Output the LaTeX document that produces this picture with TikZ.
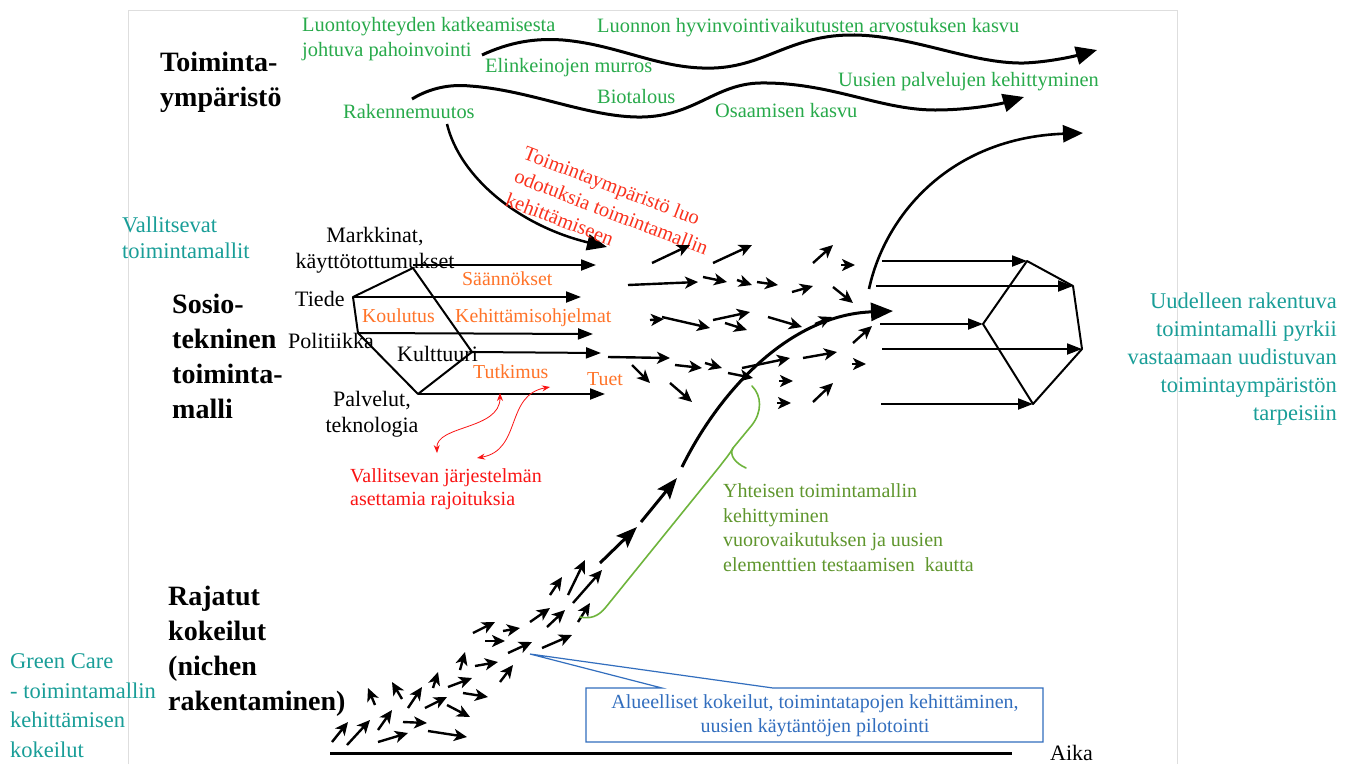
\documentclass[tikz,border=0pt]{standalone}
\usepackage{fontspec}
\setmainfont{Liberation Serif}
\usetikzlibrary{arrows.meta}
\definecolor{cgreen}{RGB}{40,170,75}
\definecolor{cteal}{RGB}{25,158,152}
\definecolor{cred}{RGB}{250,20,20}
\definecolor{credo}{RGB}{250,50,30}
\definecolor{corange}{RGB}{255,115,40}
\definecolor{colive}{RGB}{95,150,45}
\definecolor{cbrace}{RGB}{110,180,60}
\definecolor{cblue}{RGB}{50,110,190}
\definecolor{cframe}{RGB}{222,222,222}
\begin{document}
\begin{tikzpicture}[x=1pt,y=-1pt,
 lbl/.style={inner sep=0pt,anchor=base west,align=left},
 grn/.style={lbl,text=cgreen,font=\fontsize{20.4}{25}\selectfont},
 heading/.style={lbl,font=\fontsize{28}{35}\selectfont\bfseries},
 tealtx/.style={inner sep=0pt,text=cteal,font=\fontsize{22.5}{28}\selectfont},
 blk/.style={lbl,font=\fontsize{22}{26}\selectfont},
 orn/.style={lbl,text=corange,font=\fontsize{19.8}{23}\selectfont},
 redtx/.style={lbl,text=cred,font=\fontsize{20}{23}\selectfont},
 wavearr/.style={line width=3pt,-{Triangle[length=21pt,width=18pt]}},
 midarr/.style={line width=2pt,-{Triangle[length=15pt,width=11pt]}},
 smallarr/.style={line width=2.4pt,-{Stealth[length=13pt,width=12pt,inset=3.5pt]}},
 bigarr/.style={line width=3pt,-{Stealth[length=21pt,width=16pt,inset=4pt]}},
 polyline/.style={line width=2pt,line join=round},
 redarr/.style={cred,line width=0.8pt,{Stealth[length=8pt,width=6pt]}-{Stealth[length=8pt,width=6pt]}},
]
\useasboundingbox (0,0) rectangle (1355,764);
\fill[white] (0,0) rectangle (1355,764);
% frame
\draw[cframe,line width=1pt] (128,764) -- (128,10) -- (1177,10) -- (1177,764);

% headings (anchor = baseline of the last line)
\node[heading] (hToim) at (160,106) {Toiminta-\\ympäristö};
\node[heading] (hSos) at (172,418) {Sosio-\\tekninen\\toiminta-\\malli};
\node[heading] (hRaj) at (168,710) {Rajatut\\kokeilut\\(nichen\\rakentaminen)};

% teal texts
\node[tealtx,anchor=base west,align=left,font=\fontsize{22.5}{26}\selectfont] (tVall) at (122,258) {Vallitsevat\\toimintamallit};
\node[tealtx,anchor=base west,align=left,font=\fontsize{22.5}{29.5}\selectfont] (tGreen) at (10,757) {Green Care\\- toimintamallin\\kehittämisen\\kokeilut};
\node[tealtx,anchor=base east,align=right] (tUud) at (1337,420) {Uudelleen rakentuva\\toimintamalli pyrkii\\vastaamaan uudistuvan\\toimintaympäristön\\tarpeisiin};

% green top texts
\node[grn] (gLuo) at (302,56) {Luontoyhteyden katkeamisesta\\johtuva pahoinvointi};
\node[grn] (gElin) at (485,72) {Elinkeinojen murros};
\node[grn] (gRak) at (343,118) {Rakennemuutos};
\node[grn] (gLuon) at (597,32) {Luonnon hyvinvointivaikutusten arvostuksen kasvu};
\node[grn] (gBio) at (597,103) {Biotalous};
\node[grn] (gOsa) at (715,117) {Osaamisen kasvu};
\node[grn] (gUus) at (838,86) {Uusien palvelujen kehittyminen};

% waves
\draw[wavearr] (482,55) .. controls (510,42) and (535,38) .. (563,40)
  .. controls (620,45) and (660,70) .. (714,68)
  .. controls (765,66) and (790,36) .. (849,35)
  .. controls (910,34) and (970,64) .. (1024,63)
  .. controls (1050,62) and (1075,56) .. (1097,50);
\draw[wavearr] (412,99) .. controls (430,88) and (450,84) .. (470,86)
  .. controls (530,90) and (590,118) .. (642,117)
  .. controls (695,116) and (715,84) .. (760,83)
  .. controls (830,82) and (880,110) .. (935,110)
  .. controls (970,110) and (1000,104) .. (1024,97);
% Rakennemuutos arrow
\draw[line width=2.5pt,-{Triangle[length=20pt,width=16pt]}] (447,124) .. controls (460,178) and (520,226) .. (607,247);

% red rotated text
\node[redtx,text=credo,rotate=-21,anchor=north west,font=\fontsize{20.5}{25}\selectfont] (rTo) at (527,145) {Toimintaympäristö luo\\odotuksia toimintamallin\\kehittämiseen};

% left pentagon
\coordinate (pA) at (353,297);
\coordinate (pB) at (413,268);
\coordinate (pC) at (472,352);
\coordinate (pD) at (418,394);
\coordinate (pE) at (358,333);
\coordinate (qB) at (596,265);
\coordinate (qA) at (581,297);
\coordinate (qE) at (593,334);
\coordinate (qC) at (601,353);
\coordinate (qD) at (605,394);
\draw[polyline] (pA) -- (pB) -- (pC) -- (pD) -- (pE) -- cycle;
\draw[midarr] (pB |- qB) -- (qB);
\draw[midarr] (pA) -- (qA);
\draw[midarr] (pE) -- (qE);
\draw[midarr] (pC) -- (qC);
\draw[midarr] (pD) -- (qD);

% black labels
\node[blk,anchor=base,align=center] (lMark) at (375,268) {Markkinat,\\käyttötottumukset};
\node[blk] (lTiede) at (295,306) {Tiede};
\node[blk] (lPol) at (288,348) {Politiikka};
\node[blk] (lKult) at (397,361) {Kulttuuri};
\node[blk,anchor=base,align=center] (lPalv) at (372,432) {Palvelut,\\teknologia};

% orange labels
\node[orn] (oSaan) at (462,285) {Säännökset};
\node[orn] (oKoul) at (362,322) {Koulutus};
\node[orn] (oKeh) at (455,322) {Kehittämisohjelmat};
\node[orn] (oTutk) at (473,378) {Tutkimus};
\node[orn] (oTuet) at (587,385) {Tuet};

% red constraints
\node[redtx] (rVal) at (350,505) {Vallitsevan järjestelmän\\asettamia rajoituksia};
\draw[redarr] (437,453) .. controls (436,425) and (500,430) .. (500,393);
\draw[redarr] (477,458) .. controls (522,450) and (505,395) .. (550,387);

% right pentagon
\coordinate (rP1) at (1027,261);
\coordinate (rP2) at (1073,286);
\coordinate (rP3) at (1082,349);
\coordinate (rP4) at (1033,404);
\coordinate (rP5) at (983,324);
\coordinate (sP1) at (882,261);
\coordinate (sP2) at (876,286);
\coordinate (sP5) at (880,324);
\coordinate (sP3) at (882,349);
\coordinate (sP4) at (881,404);
\draw[polyline] (rP1) -- (rP2) -- (rP3) -- (rP4) -- (rP5) -- cycle;
\draw[midarr] (sP1) -- (rP1);
\draw[midarr] (sP2) -- (rP2);
\draw[midarr] (sP5) -- (rP5);
\draw[midarr] (sP3) -- (rP3);
\draw[midarr] (sP4) -- (rP4);
% upward curve from right model
\draw[line width=2.6pt,-{Triangle[length=20pt,width=17pt]}] (869,289) .. controls (885,215) and (950,138) .. (1083,133);

% main rising curve
\draw[bigarr] (600,563) -- (637,527);
\draw[bigarr] (641,522) -- (677,478);
\draw[line width=3pt,-{Triangle[length=22pt,width=18pt]}] (682,467) .. controls (720,390) and (790,315) .. (893,311);

% small arrows middle
\foreach \ax/\ay/\bx/\by in {652/263/690/245, 713/263/752/245, 628/285/698/282, 703/277/727/282, 737/280/752/285, 757/282/778/285, 792/292/813/286, 813/263/833/245, 833/287/853/303, 662/317/710/328, 713/320/750/312, 725/323/747/330, 768/317/802/327, 853/343/872/326, 742/368/790/358, 803/358/837/352, 813/402/833/383, 728/373/753/378, 705/363/722/368, 675/365/702/368, 608/357/670/358, 632/365/650/383, 670/383/692/402, 815/324/832/317, 841/265/855/265, 852/364/866/364, 779/381/793/381, 777/403/791/403, 650/320/664/319}
  \draw[smallarr] (\ax,\ay) -- (\bx,\by);

% small arrows bottom
\foreach \ax/\ay/\bx/\by in {332/742/348/722, 347/745/370/720, 378/742/408/733, 378/730/392/710, 375/705/368/688, 402/699/392/682, 408/708/422/687, 403/722/427/723, 428/731/467/737, 425/708/447/697, 433/688/438/672, 448/687/472/678, 447/705/470/717, 463/693/488/697, 460/670/465/652, 475/666/498/662, 500/682/513/665, 473/633/495/622, 485/641/505/641, 503/631/520/628, 508/653/532/642, 530/622/550/608, 542/648/572/635, 547/627/565/610, 550/595/562/577, 568/595/585/560, 573/603/602/570, 578/622/590/603}
  \draw[smallarr] (\ax,\ay) -- (\bx,\by);

% green brace
\draw[cbrace,line width=1.6pt,line cap=round,line join=round]
  (752,386) .. controls (762,396) and (762,412) .. (752,425) -- (733,448)
  .. controls (729,455) and (735,463) .. (746,468);
\draw[cbrace,line width=1.6pt,line cap=round,line join=round]
  (733,448) .. controls (729,455) and (726,458) .. (720,466) -- (606,607)
  .. controls (598,617) and (590,619) .. (580,617);

% olive text
\node[lbl,text=colive,font=\fontsize{20}{24.5}\selectfont] (oYht) at (723,571) {Yhteisen toimintamallin\\kehittyminen\\vuorovaikutuksen ja uusien\\elementtien testaamisen\ \ kautta};

% blue callout
\coordinate (bPt) at (530,654);
\draw[cblue,line width=1.2pt,line join=miter] (586,688) -- (662,688) -- (bPt) -- (773,688) -- (1043,688) -- (1043,742) -- (586,742) -- cycle;
\node[inner sep=0pt,anchor=base,align=center,text=cblue,font=\fontsize{20}{24}\selectfont] (bTxt) at (815,732) {Alueelliset kokeilut, toimintatapojen kehittäminen,\\uusien käytäntöjen pilotointi};

% time axis
\coordinate (axL) at (330,753);
\coordinate (axR) at (1012,753);
\draw[line width=3pt] (axL) -- (axR);
\node[blk] (aika) at (1050,760) {Aika};
\end{tikzpicture}
\end{document}
